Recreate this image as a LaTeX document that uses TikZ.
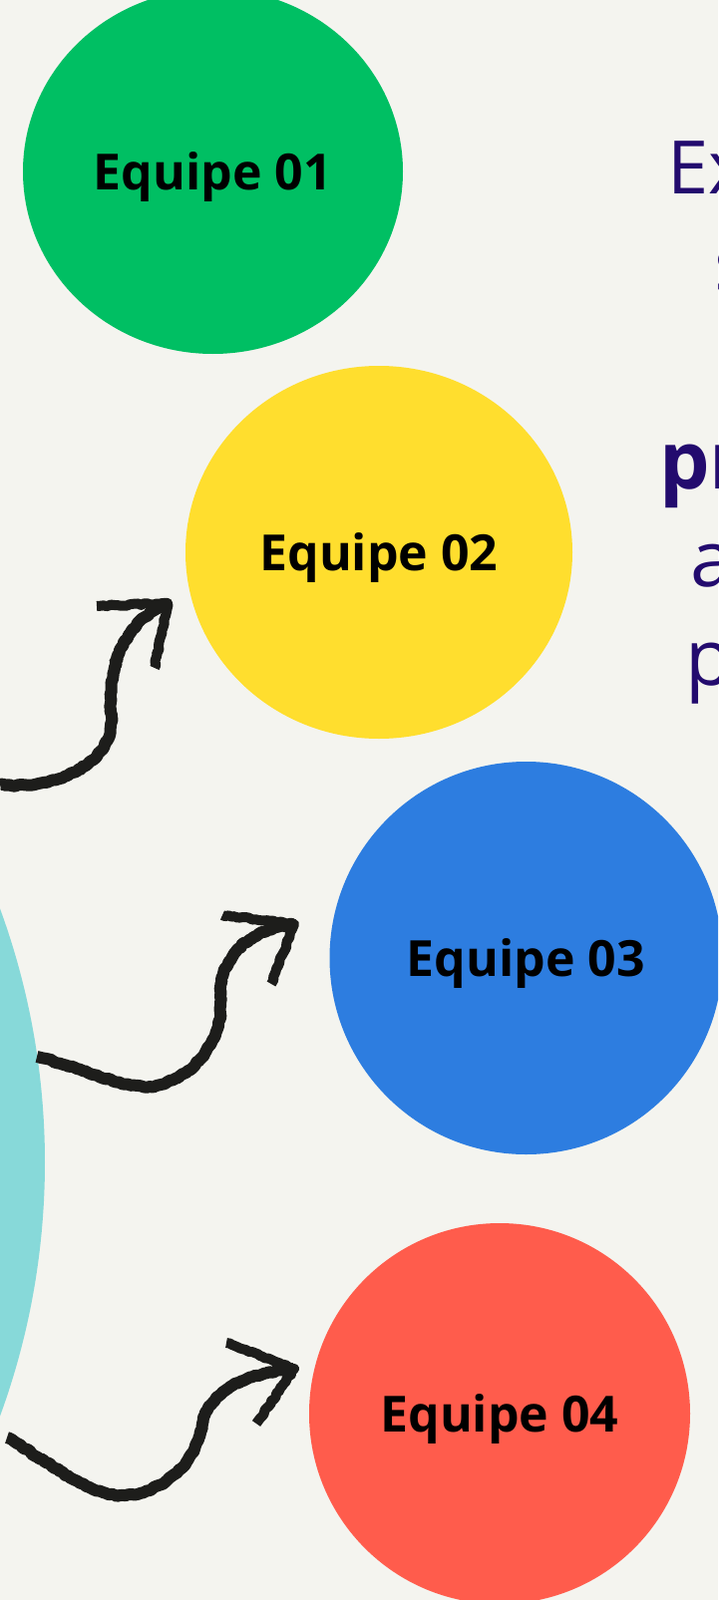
\documentclass[tikz,border=0pt]{standalone}
\usepackage{fontspec}
\setmainfont{Open Sans}
\usetikzlibrary{shapes.geometric}
\usetikzlibrary{decorations.pathmorphing}
\definecolor{paper}{HTML}{F4F4EF}
\definecolor{hubteal}{HTML}{87D9D9}
\definecolor{eqgreen}{HTML}{00BF63}
\definecolor{eqyellow}{HTML}{FFDE2E}
\definecolor{eqblue}{HTML}{2D7DE0}
\definecolor{eqred}{HTML}{FF5C4C}
\definecolor{ink}{HTML}{1D1D1B}
\definecolor{blurbpurple}{HTML}{230B6E}
\tikzset{team/.style={ellipse, inner sep=0pt, text height=37pt, text depth=0pt,
      font=\fontsize{50}{50}\selectfont\bfseries}}
\tikzset{blurb/.style={anchor=base west, inner sep=0pt, text=blurbpurple,
      font=\fontsize{78}{78}\selectfont}}
\tikzset{squiggle/.style={line width=12pt, draw=ink, line join=round,
      decorate, decoration={random steps, segment length=3pt, amplitude=0.9pt}}}

\begin{document}
\begin{tikzpicture}[x=1pt, y=-1pt]
		\useasboundingbox (0,0) rectangle (720,1605);
		\clip (0,0) rectangle (720,1605);
		\fill[paper] (0,0) rectangle (720,1605);
		\node[ellipse, fill=hubteal, minimum width=1478pt, minimum height=1478pt] (hub) at (-694,1166) {};
		\node[team, fill=eqgreen, minimum width=381pt, minimum height=366pt] (eq1) at (213.5,172) {Equipe 01};
		\node[team, fill=eqyellow, minimum width=388pt, minimum height=374pt] (eq2) at (380,554) {Equipe 02};
		\node[team, fill=eqblue, minimum width=394pt, minimum height=394pt] (eq3) at (527.5,961) {Equipe 03};
		\node[team, fill=eqred, minimum width=382pt, minimum height=382pt] (eq4) at (501,1418) {Equipe 04};
		\node[blurb, font=\fontsize{74}{74}\selectfont] (line1) at (669,195) {Ex};
		\node[blurb] (line2) at (716,292) {s};
		\node[blurb, font=\fontsize{80}{80}\selectfont\bfseries] (line3) at (661,490) {pr};
		\node[blurb] (line4) at (692,588) {a};
		\node[blurb] (line5) at (687,687) {p};
		\coordinate (s2) at (0,787);
		\coordinate (m2) at (112,720);
		\coordinate (t2) at (168,605);
		\coordinate (b2a) at (97,608);
		\coordinate (b2b) at (155,670);
		\coordinate (s3) at (37,1060);
		\coordinate (m3) at (150,1090);
		\coordinate (n3) at (221,1005);
		\coordinate (t3) at (295,927);
		\coordinate (b3a) at (223,918);
		\coordinate (b3b) at (272,987);
		\coordinate (s4) at (7,1442);
		\coordinate (m4) at (120,1500);
		\coordinate (n4) at (203,1428);
		\coordinate (t4) at (295,1373);
		\coordinate (b4a) at (227,1347);
		\coordinate (b4b) at (257,1428);
		\draw[squiggle] (s2) .. controls (50,793) and (112,770) .. (m2) .. controls (106,660) and (130,622) .. (t2);
		\draw[squiggle, line width=10pt] (b2a) -- (t2) -- (b2b);
		\draw[squiggle] (s3) .. controls (80,1070) and (120,1092) .. (m3) .. controls (195,1085) and (224,1040) .. (n3) .. controls (218,960) and (250,932) .. (t3);
		\draw[squiggle, line width=10pt] (b3a) -- (t3) -- (b3b);
		\draw[squiggle] (s4) .. controls (50,1468) and (90,1500) .. (m4) .. controls (165,1500) and (198,1465) .. (n4) .. controls (210,1395) and (245,1378) .. (t4);
		\draw[squiggle, line width=10pt] (b4a) -- (t4) -- (b4b);
\end{tikzpicture}
\end{document}
